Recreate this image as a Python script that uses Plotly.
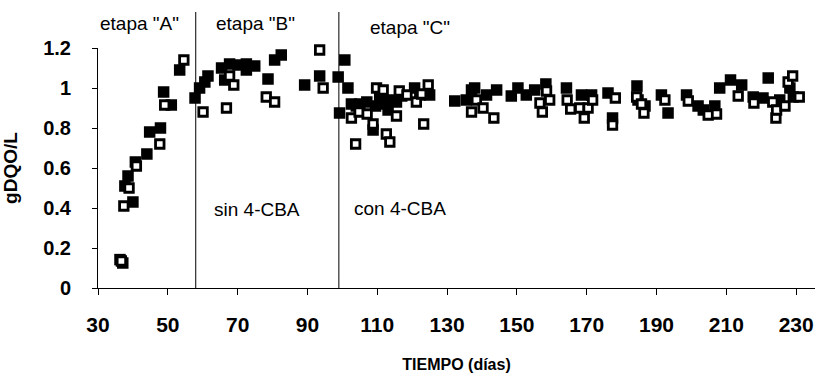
import plotly.graph_objects as go

# Filled squares series (day, gDQO/L)
filled_x = [36.3, 37.1, 40.0, 37.7, 38.6, 40.7, 44.0, 44.8, 47.9, 48.8, 51.0, 53.4, 57.8, 59.1, 60.6,
            61.5, 65.4, 66.3, 67.7, 70.1, 72.5, 72.5, 74.9, 78.7, 80.6, 82.5, 89.2, 93.5, 98.8,
            99.2, 100.7, 101.6, 102.6, 104.0, 105.0, 107.0, 108.8, 109.5, 110.7, 111.5, 113.1,
            113.6, 115.5, 117.0, 120.7, 122.2, 125.0, 132.2, 135.5, 137.0, 137.9, 141.3, 144.2,
            148.4, 150.3, 152.7, 155.1, 158.3, 164.2, 168.5, 171.4, 176.1, 177.4, 184.4, 184.7,
            186.7, 191.4, 193.3, 198.6, 201.9, 203.4, 206.7, 208.1, 211.2, 214.4, 217.7, 220.5,
            222.0, 225.3, 228.2, 229.2]
filled_y = [0.142, 0.125, 0.43, 0.51, 0.56, 0.63, 0.67, 0.78, 0.80, 0.98, 0.915, 1.09, 0.95, 1.00, 1.03,
            1.06, 1.10, 1.04, 1.12, 1.115, 1.12, 1.09, 1.11, 1.045, 1.14, 1.165, 1.015, 1.06, 1.055,
            0.875, 1.14, 1.00, 0.92, 0.91, 0.92, 0.93, 0.79, 0.91, 0.96, 0.92, 0.89,
            0.94, 0.93, 0.96, 1.00, 0.965, 0.965, 0.935, 0.94, 0.99, 1.00, 0.965, 0.99,
            0.96, 1.00, 0.965, 0.99, 1.02, 1.00, 0.965, 0.965, 0.975, 0.85, 1.01, 0.94,
            0.91, 0.965, 0.875, 0.965, 0.91, 0.89, 0.91, 1.00, 1.04, 1.015, 0.955, 0.95,
            1.05, 0.94, 1.00, 0.955]

# Open squares series (day, gDQO/L)
open_x = [36.7, 37.4, 38.9, 41.0, 47.7, 49.1, 54.6, 60.1, 66.8, 67.7, 68.9, 78.2, 80.6, 93.5,
          94.5, 102.6, 103.8, 104.8, 107.1, 108.8, 109.8, 111.7, 112.6, 113.6, 115.5, 116.3,
          118.5, 121.2, 122.7, 123.3, 124.6, 137.0, 138.4, 140.3, 143.4, 156.6, 157.3, 158.5,
          159.4, 164.4, 165.4, 168.0, 169.3, 170.4, 171.7, 177.4, 178.2, 184.3, 185.7, 186.4,
          192.4, 199.1, 204.8, 207.2, 213.4, 217.9, 223.3, 224.2, 224.4, 226.8, 227.7, 229.0,
          230.9]
open_y = [0.135, 0.41, 0.50, 0.61, 0.72, 0.915, 1.14, 0.88, 0.90, 1.06, 1.015, 0.955, 0.93, 1.19,
          1.00, 0.85, 0.72, 0.88, 0.87, 0.82, 1.00, 0.99, 0.77, 0.73, 0.86, 0.985,
          0.965, 0.93, 0.97, 0.82, 1.015, 0.88, 0.94, 0.90, 0.85, 0.925, 0.88, 0.985,
          0.94, 0.94, 0.895, 0.90, 0.85, 0.90, 0.94, 0.815, 0.95, 0.955, 0.92, 0.875,
          0.94, 0.935, 0.865, 0.87, 0.96, 0.925, 0.93, 0.85, 0.89, 0.91, 1.03, 1.06,
          0.955]

x_ticks = [30, 50, 70, 90, 110, 130, 150, 170, 190, 210, 230]
y_ticks = [0, 0.2, 0.4, 0.6, 0.8, 1.0, 1.2]
y_tick_labels = ["0", "0.2", "0.4", "0.6", "0.8", "1", "1.2"]
stage_bounds = [58, 99]
stage_labels = ['etapa "A"', 'etapa "B"', 'etapa "C"']
stage_label_x = [41.8, 75.0, 119.5]
stage_label_paper_y = [1.10, 1.10, 1.085]
cond_labels = ["sin 4-CBA", "con 4-CBA"]
cond_label_x = [75.6, 116.4]
cond_label_y = [0.395, 0.40]

FONT = "Liberation Sans, Arial, sans-serif"

fig = go.Figure()
fig.add_trace(go.Scatter(x=filled_x, y=filled_y, mode="markers",
                         marker=dict(symbol="square", size=11.5, color="black",
                                     line=dict(color="black", width=0)),
                         showlegend=False, cliponaxis=False))
fig.add_trace(go.Scatter(x=open_x, y=open_y, mode="markers",
                         marker=dict(symbol="square", size=8.5, color="white",
                                     line=dict(color="black", width=2.8)),
                         showlegend=False, cliponaxis=False))

for b in stage_bounds:
    fig.add_shape(type="line", xref="x", yref="paper", x0=b, x1=b, y0=0, y1=1.15,
                  line=dict(color="black", width=1))

for t, x, y in zip(stage_labels, stage_label_x, stage_label_paper_y):
    fig.add_annotation(x=x, y=y, xref="x", yref="paper", yanchor="middle", text=t,
                       showarrow=False, font=dict(family=FONT, size=19, color="black"))
for t, x, y in zip(cond_labels, cond_label_x, cond_label_y):
    fig.add_annotation(x=x, y=y, xref="x", yref="y", yanchor="middle", text=t,
                       showarrow=False, font=dict(family=FONT, size=19, color="black"))

fig.update_layout(
    width=822, height=376,
    margin=dict(l=98, r=7, t=48, b=88),
    paper_bgcolor="white", plot_bgcolor="white",
    font=dict(family=FONT, color="black"),
    xaxis=dict(range=[30, 235.4], tickvals=x_ticks, ticks="outside", ticklen=6,
               tickcolor="black", showline=True, linecolor="black", linewidth=1,
               showgrid=False, zeroline=False, ticklabelstandoff=12, automargin=False,
               tickfont=dict(family=FONT, size=21, color="black", weight="bold"),
               title=dict(text="<b>TIEMPO (días)</b>", font=dict(family=FONT, size=16),
                          standoff=23)),
    yaxis=dict(range=[0, 1.2], tickvals=y_ticks, ticktext=y_tick_labels, ticks="outside",
               ticklen=5, tickcolor="black", showline=True, linecolor="black", linewidth=1,
               showgrid=False, zeroline=False, ticklabelstandoff=17, automargin=False,
               tickfont=dict(family=FONT, size=20, color="black", weight="bold"),
               title=dict(text="<b>gDQO/L</b>", font=dict(family=FONT, size=19),
                          standoff=23)),
)

fig.write_html("out.html", config={"displayModeBar": False},
               post_script="document.body.style.margin='0px';document.body.style.overflow='hidden';")
